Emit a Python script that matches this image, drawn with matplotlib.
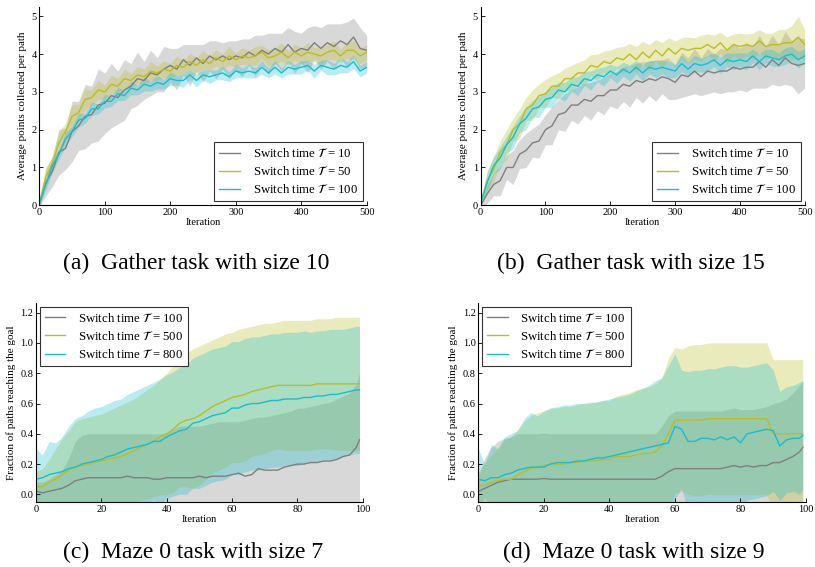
import matplotlib
matplotlib.use('Agg')
import matplotlib.pyplot as plt
import numpy as np

plt.rcParams['font.family'] = ['Liberation Serif', 'DejaVu Serif']
plt.rcParams['mathtext.fontset'] = 'stix'

# ---- gather tasks: sampled every 10 iterations ----
gather_iters = list(range(0, 501, 10))

a_gray = [0.0, 0.6, 0.9, 1.4, 1.5, 1.95, 2.1, 2.35, 2.4, 2.65, 2.7, 2.9, 2.85, 3.05, 3.15, 3.35, 3.3,
          3.5, 3.45, 3.6, 3.7, 3.6, 3.85, 3.7, 3.9, 3.75, 3.95, 3.85, 3.95, 3.85, 3.95, 3.9, 4.05, 3.95,
          4.1, 4.0, 4.15, 4.05, 4.25, 4.05, 4.15, 4.1, 4.3, 4.15, 4.3, 4.2, 4.35, 4.25, 4.45, 4.15, 4.1]
a_gray_std = [0.05, 0.35, 0.4, 0.6, 0.55, 0.8, 0.65, 0.85, 0.75, 0.95, 0.8, 0.85, 0.7, 0.8, 0.6, 0.7,
              0.5, 0.6, 0.45, 0.6, 0.45, 0.55, 0.4, 0.55, 0.35, 0.5, 0.4, 0.5, 0.35, 0.5, 0.4, 0.5,
              0.35, 0.55, 0.4, 0.55, 0.4, 0.5, 0.45, 0.55, 0.4, 0.6, 0.45, 0.55, 0.5, 0.6, 0.45, 0.6,
              0.5, 0.55, 0.4]
a_yellow = [0.05, 0.75, 1.1, 1.65, 1.95, 2.35, 2.45, 2.8, 2.85, 3.05, 3.0, 3.2, 3.15, 3.35, 3.3, 3.45,
            3.4, 3.55, 3.5, 3.6, 3.55, 3.7, 3.65, 3.8, 3.7, 3.85, 3.75, 3.9, 3.8, 3.95, 3.85, 3.95, 3.9,
            3.95, 4.05, 3.9, 3.95, 4.05, 3.9, 4.05, 3.95, 4.05, 4.0, 3.95, 4.05, 4.1, 3.95, 4.1, 4.1,
            3.95, 4.05]
a_yellow_std = [0.05, 0.25, 0.2, 0.3, 0.22, 0.3, 0.22, 0.28, 0.2, 0.25, 0.18, 0.25, 0.2, 0.25, 0.18,
                0.22, 0.2, 0.25, 0.18, 0.22, 0.2, 0.25, 0.18, 0.22, 0.2, 0.25, 0.18, 0.22, 0.2, 0.25,
                0.18, 0.22, 0.2, 0.25, 0.18, 0.22, 0.2, 0.25, 0.18, 0.22, 0.2, 0.25, 0.18, 0.22, 0.2,
                0.25, 0.18, 0.22, 0.25, 0.2, 0.2]
a_cyan = [0.05, 0.55, 1.05, 1.35, 1.75, 1.95, 2.25, 2.3, 2.55, 2.55, 2.75, 2.75, 2.95, 2.9, 3.1, 3.05,
          3.2, 3.15, 3.25, 3.2, 3.35, 3.3, 3.3, 3.45, 3.3, 3.45, 3.4, 3.45, 3.5, 3.4, 3.55, 3.5, 3.55,
          3.5, 3.65, 3.5, 3.65, 3.5, 3.65, 3.6, 3.65, 3.7, 3.55, 3.7, 3.65, 3.6, 3.7, 3.65, 3.8, 3.55,
          3.65]
a_cyan_std = [0.05, 0.15, 0.18, 0.13, 0.18, 0.13, 0.18, 0.13, 0.18, 0.13, 0.18, 0.13, 0.18, 0.13, 0.18,
              0.13, 0.18, 0.13, 0.18, 0.13, 0.18, 0.13, 0.18, 0.13, 0.18, 0.13, 0.18, 0.13, 0.18, 0.13,
              0.18, 0.13, 0.18, 0.13, 0.18, 0.13, 0.18, 0.13, 0.18, 0.13, 0.18, 0.13, 0.18, 0.13, 0.2,
              0.15, 0.2, 0.15, 0.18, 0.15, 0.15]

b_gray = [0.0, 0.3, 0.55, 0.65, 1.0, 1.0, 1.35, 1.45, 1.65, 1.7, 2.0, 2.1, 2.4, 2.45, 2.65, 2.65, 2.8,
          2.75, 2.9, 2.9, 3.05, 3.05, 3.2, 3.15, 3.3, 3.25, 3.35, 3.3, 3.4, 3.35, 3.25, 3.45, 3.4, 3.55,
          3.4, 3.55, 3.5, 3.55, 3.55, 3.65, 3.6, 3.65, 3.65, 3.8, 3.65, 3.85, 3.7, 3.9, 3.75, 3.7, 3.75]
b_gray_std = [0.05, 0.25, 0.3, 0.4, 0.32, 0.45, 0.38, 0.45, 0.38, 0.45, 0.4, 0.5, 0.4, 0.5, 0.4, 0.5,
              0.42, 0.5, 0.4, 0.5, 0.42, 0.5, 0.45, 0.55, 0.45, 0.55, 0.45, 0.55, 0.45, 0.55, 0.45, 0.6,
              0.5, 0.6, 0.5, 0.6, 0.5, 0.6, 0.55, 0.65, 0.55, 0.65, 0.55, 0.7, 0.55, 0.65, 0.55, 0.7,
              0.6, 0.75, 0.65]
b_yellow = [0.05, 0.65, 0.95, 1.4, 1.6, 2.0, 2.15, 2.55, 2.65, 2.9, 2.95, 3.15, 3.15, 3.35, 3.35, 3.5,
            3.5, 3.7, 3.65, 3.8, 3.75, 3.9, 3.85, 4.0, 3.85, 4.05, 3.9, 4.1, 3.95, 4.15, 4.0, 4.15, 4.1,
            4.15, 4.15, 4.25, 4.15, 4.3, 4.1, 4.25, 4.2, 4.25, 4.2, 4.35, 4.2, 4.25, 4.25, 4.3, 4.3,
            4.45, 4.25]
b_yellow_std = [0.05, 0.25, 0.35, 0.3, 0.4, 0.3, 0.4, 0.3, 0.4, 0.3, 0.38, 0.28, 0.35, 0.28, 0.35, 0.28,
                0.35, 0.28, 0.35, 0.28, 0.35, 0.28, 0.35, 0.28, 0.35, 0.28, 0.35, 0.28, 0.35, 0.28,
                0.35, 0.28, 0.35, 0.28, 0.35, 0.28, 0.35, 0.28, 0.35, 0.28, 0.35, 0.28, 0.35, 0.3, 0.35,
                0.3, 0.4, 0.35, 0.45, 0.55, 0.4]
b_cyan = [0.05, 0.6, 1.05, 1.25, 1.6, 1.8, 2.15, 2.3, 2.55, 2.6, 2.8, 2.85, 3.05, 3.0, 3.2, 3.15, 3.35,
          3.3, 3.45, 3.4, 3.55, 3.45, 3.6, 3.5, 3.65, 3.5, 3.65, 3.6, 3.65, 3.6, 3.55, 3.75, 3.6, 3.75,
          3.7, 3.75, 3.85, 3.7, 3.85, 3.8, 3.85, 3.8, 3.95, 3.8, 3.95, 3.9, 3.85, 3.95, 4.0, 3.85, 3.95]
b_cyan_std = [0.05, 0.28, 0.22, 0.3, 0.22, 0.3, 0.22, 0.3, 0.22, 0.28, 0.2, 0.28, 0.2, 0.25, 0.18, 0.25,
              0.18, 0.25, 0.18, 0.25, 0.18, 0.22, 0.18, 0.22, 0.18, 0.22, 0.18, 0.22, 0.18, 0.22, 0.18,
              0.22, 0.18, 0.22, 0.18, 0.22, 0.18, 0.22, 0.18, 0.22, 0.18, 0.22, 0.18, 0.22, 0.18, 0.22,
              0.18, 0.22, 0.2, 0.22, 0.2]

# ---- maze tasks: sampled every 2 iterations ----
maze_iters = list(range(0, 99, 2)) + [99]

c_gray = [0.02, 0.01, 0.02, 0.03, 0.04, 0.06, 0.09, 0.10, 0.11, 0.11, 0.11, 0.11, 0.11, 0.11, 0.12,
          0.11, 0.11, 0.11, 0.10, 0.10, 0.11, 0.11, 0.11, 0.11, 0.11, 0.12, 0.11, 0.12, 0.12, 0.12,
          0.13, 0.14, 0.12, 0.13, 0.17, 0.16, 0.16, 0.16, 0.18, 0.19, 0.20, 0.20, 0.21, 0.21, 0.22,
          0.22, 0.23, 0.25, 0.26, 0.31, 0.36]
c_gray_std = [0.06, 0.07, 0.08, 0.10, 0.12, 0.18, 0.26, 0.29, 0.29, 0.29, 0.29, 0.29, 0.29, 0.29, 0.28,
              0.29, 0.29, 0.29, 0.30, 0.30, 0.30, 0.32, 0.34, 0.34, 0.34, 0.33, 0.35, 0.35, 0.36, 0.36,
              0.35, 0.34, 0.37, 0.37, 0.34, 0.35, 0.36, 0.37, 0.36, 0.36, 0.37, 0.37, 0.37, 0.38, 0.38,
              0.39, 0.40, 0.40, 0.41, 0.42, 0.44]
c_yellow = [0.05, 0.05, 0.08, 0.10, 0.13, 0.16, 0.18, 0.19, 0.20, 0.21, 0.22, 0.23, 0.24, 0.25, 0.27,
            0.29, 0.31, 0.33, 0.35, 0.38, 0.40, 0.43, 0.47, 0.49, 0.50, 0.52, 0.55, 0.58, 0.60, 0.62,
            0.64, 0.65, 0.66, 0.68, 0.69, 0.70, 0.71, 0.72, 0.72, 0.72, 0.72, 0.72, 0.72, 0.73, 0.73,
            0.73, 0.73, 0.73, 0.73, 0.73, 0.73]
c_yellow_std = [0.10, 0.12, 0.15, 0.20, 0.24, 0.26, 0.30, 0.31, 0.31, 0.31, 0.31, 0.32, 0.33, 0.34,
                0.34, 0.34, 0.35, 0.36, 0.37, 0.38, 0.40, 0.42, 0.42, 0.44, 0.46, 0.46, 0.45, 0.44, 0.44,
                0.44, 0.43, 0.44, 0.44, 0.43, 0.43, 0.43, 0.42, 0.42, 0.43, 0.43, 0.43, 0.43, 0.43, 0.43,
                0.43, 0.43, 0.44, 0.44, 0.44, 0.44, 0.44]
c_cyan = [0.10, 0.11, 0.13, 0.14, 0.15, 0.17, 0.18, 0.20, 0.21, 0.22, 0.23, 0.25, 0.26, 0.28, 0.30, 0.31,
          0.32, 0.33, 0.35, 0.35, 0.38, 0.40, 0.42, 0.43, 0.47, 0.48, 0.50, 0.52, 0.53, 0.54, 0.57, 0.57,
          0.59, 0.60, 0.60, 0.61, 0.62, 0.62, 0.63, 0.63, 0.63, 0.64, 0.64, 0.65, 0.65, 0.66, 0.66, 0.67,
          0.68, 0.69, 0.69]
c_cyan_std = [0.20, 0.15, 0.22, 0.20, 0.23, 0.28, 0.32, 0.32, 0.34, 0.35, 0.35, 0.35, 0.36, 0.35, 0.36,
              0.37, 0.38, 0.39, 0.39, 0.41, 0.41, 0.41, 0.42, 0.43, 0.43, 0.44, 0.44, 0.44, 0.44, 0.44,
              0.44, 0.44, 0.44, 0.44, 0.44, 0.44, 0.44, 0.44, 0.44, 0.44, 0.44, 0.44, 0.43, 0.43, 0.43,
              0.43, 0.43, 0.42, 0.42, 0.42, 0.42]

d_gray = [0.02, 0.04, 0.06, 0.08, 0.09, 0.10, 0.10, 0.10, 0.10, 0.10, 0.105, 0.10, 0.10, 0.10, 0.10,
          0.10, 0.10, 0.10, 0.10, 0.10, 0.10, 0.10, 0.10, 0.10, 0.10, 0.10, 0.10, 0.10, 0.12, 0.15,
          0.17, 0.17, 0.17, 0.17, 0.17, 0.17, 0.17, 0.17, 0.18, 0.19, 0.18, 0.19, 0.18, 0.19, 0.19,
          0.21, 0.21, 0.23, 0.25, 0.28, 0.31]
d_gray_std = [0.10, 0.20, 0.25, 0.27, 0.28, 0.28, 0.30, 0.30, 0.30, 0.30, 0.30, 0.30, 0.30, 0.30, 0.30,
              0.30, 0.30, 0.30, 0.30, 0.30, 0.30, 0.30, 0.30, 0.30, 0.30, 0.30, 0.30, 0.30, 0.33, 0.37,
              0.38, 0.38, 0.38, 0.38, 0.38, 0.38, 0.38, 0.38, 0.38, 0.38, 0.38, 0.37, 0.38, 0.38, 0.39,
              0.39, 0.40, 0.40, 0.42, 0.44, 0.44]
d_yellow = [0.05, 0.06, 0.08, 0.09, 0.10, 0.10, 0.13, 0.15, 0.17, 0.18, 0.19, 0.20, 0.20, 0.20, 0.21,
            0.21, 0.22, 0.22, 0.22, 0.23, 0.23, 0.25, 0.25, 0.25, 0.26, 0.27, 0.27, 0.28, 0.32, 0.40,
            0.49, 0.49, 0.49, 0.49, 0.49, 0.50, 0.50, 0.50, 0.50, 0.50, 0.50, 0.50, 0.50, 0.50, 0.50,
            0.40, 0.40, 0.40, 0.40, 0.40, 0.40]
d_yellow_std = [0.10, 0.15, 0.18, 0.22, 0.26, 0.28, 0.30, 0.33, 0.35, 0.36, 0.36, 0.37, 0.37, 0.38,
                0.37, 0.38, 0.38, 0.38, 0.39, 0.39, 0.39, 0.40, 0.41, 0.42, 0.43, 0.43, 0.44, 0.45, 0.45,
                0.50, 0.48, 0.47, 0.49, 0.50, 0.50, 0.50, 0.50, 0.50, 0.50, 0.50, 0.50, 0.50, 0.50, 0.50,
                0.50, 0.49, 0.49, 0.49, 0.49, 0.49, 0.49]
d_cyan = [0.10, 0.09, 0.11, 0.11, 0.13, 0.14, 0.16, 0.17, 0.18, 0.18, 0.18, 0.20, 0.21, 0.21, 0.21, 0.22,
          0.22, 0.23, 0.24, 0.24, 0.25, 0.26, 0.27, 0.28, 0.29, 0.30, 0.31, 0.32, 0.33, 0.34, 0.45, 0.43,
          0.35, 0.35, 0.37, 0.37, 0.36, 0.38, 0.36, 0.38, 0.34, 0.40, 0.41, 0.42, 0.43, 0.42, 0.32, 0.36,
          0.37, 0.37, 0.39]
d_cyan_std = [0.20, 0.11, 0.22, 0.19, 0.25, 0.26, 0.26, 0.33, 0.36, 0.34, 0.37, 0.37, 0.37, 0.38, 0.38,
              0.38, 0.38, 0.38, 0.37, 0.38, 0.38, 0.38, 0.38, 0.38, 0.39, 0.40, 0.41, 0.43, 0.44, 0.51,
              0.48, 0.39, 0.46, 0.47, 0.45, 0.46, 0.47, 0.46, 0.49, 0.47, 0.50, 0.44, 0.44, 0.44, 0.44,
              0.40, 0.36, 0.35, 0.35, 0.37, 0.36]

gather_labels = [r'Switch time $\mathcal{T}$ = 10', r'Switch time $\mathcal{T}$ = 50',
                 r'Switch time $\mathcal{T}$ = 100']
maze_labels = [r'Switch time $\mathcal{T}$ = 100', r'Switch time $\mathcal{T}$ = 500',
               r'Switch time $\mathcal{T}$ = 800']
captions = ['(a)  Gather task with size 10', '(b)  Gather task with size 15',
            '(c)  Maze 0 task with size 7', '(d)  Maze 0 task with size 9']

colors = ['#7f7f7f', '#bcbd22', '#17becf']

fig = plt.figure(figsize=(8.15, 5.67), dpi=100)

panels = [
    ([0.0482, 0.638, 0.4017, 0.350], gather_iters, [(a_gray, a_gray_std), (a_yellow, a_yellow_std), (a_cyan, a_cyan_std)]),
    ([0.5898, 0.638, 0.3975, 0.350], gather_iters, [(b_gray, b_gray_std), (b_yellow, b_yellow_std), (b_cyan, b_cyan_std)]),
    ([0.0442, 0.1148, 0.4009, 0.351], maze_iters, [(c_gray, c_gray_std), (c_yellow, c_yellow_std), (c_cyan, c_cyan_std)]),
    ([0.5869, 0.1148, 0.4021, 0.351], maze_iters, [(d_gray, d_gray_std), (d_yellow, d_yellow_std), (d_cyan, d_cyan_std)]),
]

for i, (rect, xs, series) in enumerate(panels):
    ax = fig.add_axes(rect)
    xs = np.array(xs)
    gather = i < 2
    labels = gather_labels if gather else maze_labels
    for (m, s), col, lab in zip(series, colors, labels):
        m = np.array(m)
        s = np.array(s)
        ax.fill_between(xs, m - s, m + s, color=col, alpha=0.3, linewidth=0)
        ax.plot(xs, m, color=col, linewidth=1.0, label=lab)

    for side in ['top', 'right']:
        ax.spines[side].set_visible(False)
    for side in ['left', 'bottom']:
        ax.spines[side].set_linewidth(0.8)
    ax.tick_params(direction='in', length=3, width=0.6, labelsize=7.5, pad=2)

    if gather:
        ax.set_xlim(0, 500)
        ax.set_ylim(0, 5.25)
        ax.set_xticks([0, 100, 200, 300, 400, 500])
        ax.set_yticks([0, 1, 2, 3, 4, 5])
        ax.set_ylabel('Average points collected per path', fontsize=8, labelpad=3)
        loc = 'lower right'
    else:
        ax.set_xlim(0, 100)
        ax.set_ylim(-0.05, 1.265)
        ax.set_xticks([0, 20, 40, 60, 80, 100])
        ax.set_yticks([0.0, 0.2, 0.4, 0.6, 0.8, 1.0, 1.2])
        ax.set_yticklabels(['%.1f' % v for v in [0.0, 0.2, 0.4, 0.6, 0.8, 1.0, 1.2]])
        ax.set_ylabel('Fraction of paths reaching the goal', fontsize=8, labelpad=3)
        loc = 'upper left'
    ax.set_xlabel('Iteration', fontsize=7.5, labelpad=1)

    leg = ax.legend(loc=loc, fontsize=9.2, fancybox=False, framealpha=1, edgecolor='#333333',
                    handlelength=1.6, handletextpad=1.0, labelspacing=0.4, borderpad=0.4,
                    borderaxespad=0.3)
    leg.get_frame().set_linewidth(0.8)

fig.text(0.241, 0.535, captions[0], ha='center', va='center', fontsize=17)
fig.text(0.774, 0.535, captions[1], ha='center', va='center', fontsize=17)
fig.text(0.237, 0.026, captions[2], ha='center', va='center', fontsize=17)
fig.text(0.777, 0.026, captions[3], ha='center', va='center', fontsize=17)

fig.savefig('out.png', dpi=100)
